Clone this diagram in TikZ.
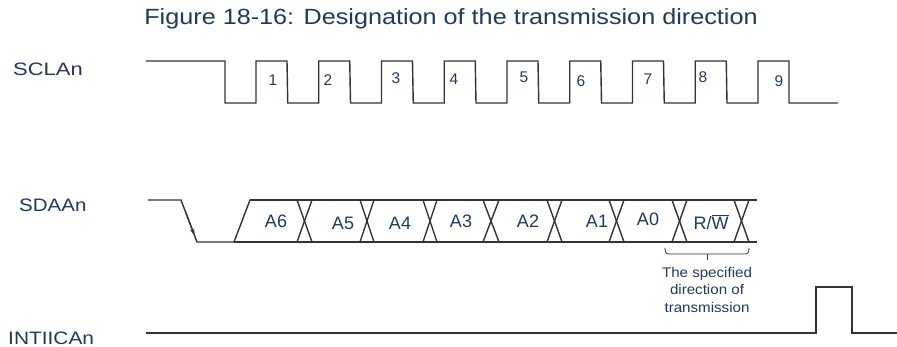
\documentclass[tikz,border=0pt]{standalone}
\usepackage{fontspec}
\setmainfont{Liberation Sans}
\usetikzlibrary{arrows.meta}
\definecolor{txt}{HTML}{1F3A5A}
\definecolor{sig}{HTML}{333333}
\begin{document}
\begin{tikzpicture}[x=1pt,y=-1pt,
  wave/.style={draw=sig,line width=1.4pt,line join=miter},
  lbl/.style={text=txt,font=\fontsize{18}{20}\selectfont,inner sep=0pt},
  num/.style={text=txt,font=\fontsize{15.5}{17}\selectfont,inner sep=0pt},
  bit/.style={text=txt,font=\fontsize{18}{20}\selectfont,inner sep=0pt},
  note/.style={text=txt,font=\fontsize{14}{17.5}\selectfont,inner sep=0pt,align=center}]
\useasboundingbox (0,0) rectangle (897,347);
% title
\node[text=txt,font=\fontsize{22}{26}\selectfont,inner sep=0pt,anchor=base] (title) at (451,24.5) {\scalebox{1.146}[1]{Figure 18-16: Designation of the transmission direction}};
% labels
\node[lbl,anchor=west] (scl) at (13,69) {\scalebox{1.22}[1]{SCLAn}};
\node[lbl,anchor=west] (sda) at (19,205) {\scalebox{1.14}[1]{SDAAn}};
\node[lbl,anchor=west] (int) at (8,338) {\scalebox{1.16}[1]{INTIICAn}};
% SCL waveform
\draw[wave] (146,61) -- (225,61)
  \foreach \i in {0,...,8} {
    -- ({225+62.75*\i},103) -- ({256+62.75*\i},103) -- ({256+62.75*\i},61) -- ({287+62.75*\i},61)
  } -- (789,103) -- (838,103);
% clock numbers
\node[num] (n1) at (273,80) {1};
\node[num] (n2) at (328,80) {2};
\node[num] (n3) at (396,78) {3};
\node[num] (n4) at (454,79) {4};
\node[num] (n5) at (524,77) {5};
\node[num] (n6) at (581,81) {6};
\node[num] (n7) at (648,79) {7};
\node[num] (n8) at (703,77) {8};
\node[num] (n9) at (779,81) {9};
% SDA start
\draw[wave] (148,200) -- (181,200) -- (197,242) -- (234,242) -- (250,200) -- (297,200);
\draw[sig,line width=1.2pt,-{Stealth[length=7pt,width=4.5pt]}] (186,213) -- (194.5,235.5);
% SDA bus
\foreach \a/\b in {297/312,360/374,423/437,483/499,547/562,609/624,672/687,734/749}{
  \draw[wave] (\a,200) -- (\b,242);
  \draw[wave] (\a,242) -- (\b,200);
}
\draw[wave] (250,200) -- (757,200);
\draw[wave] (234,242) -- (757,242);
% bits
\node[bit] (a6) at (276,221) {A6};
\node[bit] (a5) at (343,223) {A5};
\node[bit] (a4) at (400,223) {A4};
\node[bit] (a3) at (461,221) {A3};
\node[bit] (a2) at (528,221) {A2};
\node[bit] (a1) at (597,221) {A1};
\node[bit] (a0) at (648,219) {A0};
\node[bit] (rw) at (711,222) {R/$\overline{\mbox{W}}$};
% brace
\draw[sig,line width=0.8pt] (665,248) .. controls (665,253) and (666,254) .. (670,254) -- (744,254) .. controls (748,254) and (749,253) .. (749,248);
\draw[sig,line width=0.8pt] (707,254) -- (707,260);
\node[note] (dir) at (707,289.5) {\scalebox{1.08}[1]{The specified}\\\scalebox{1.08}[1]{direction of}\\\scalebox{1.08}[1]{transmission}};
% INTIICAn
\draw[wave] (146,333) -- (816,333) -- (816,287) -- (852,287) -- (852,333) -- (897,333);
\end{tikzpicture}
\end{document}
